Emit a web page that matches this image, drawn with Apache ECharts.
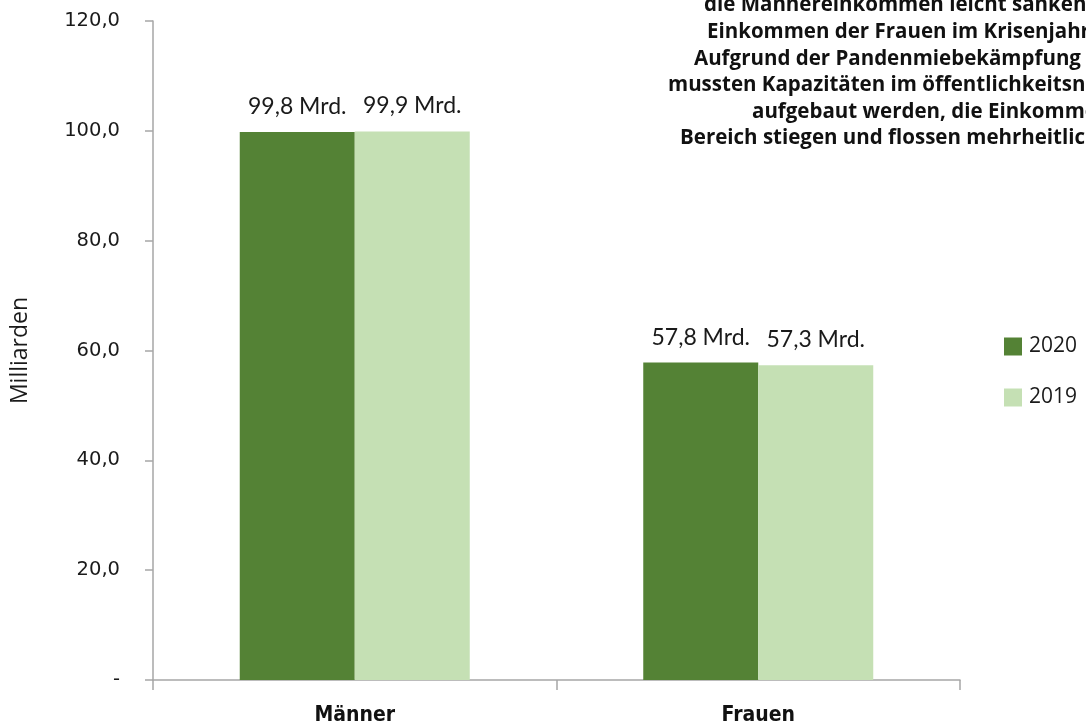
<!DOCTYPE html>
<html>
<head>
<meta charset="utf-8">
<script src="https://cdn.jsdelivr.net/npm/echarts@6/dist/echarts.min.js"></script>
<style>
  html, body { margin: 0; padding: 0; background: #fff; }
  #chart { width: 1086px; height: 727px; }
</style>
</head>
<body>
<div id="chart"></div>
<script>
const categories = ['Männer', 'Frauen']
const years = ['2020', '2019']
const values2020 = [99.8, 57.8]
const values2019 = [99.9, 57.3]
const yTicks = [0, 20, 40, 60, 80, 100, 120]

// Kommentar oben rechts (rechts abgeschnitten wie im Original)
const noteLines = [
  'die Männereinkommen leicht sanken, stieg das',
  'Einkommen der Frauen im Krisenjahr',
  'Aufgrund der Pandenmiebekämpfung',
  'mussten Kapazitäten im öffentlichkeitsnahen',
  'aufgebaut werden, die Einkommen',
  'Bereich stiegen und flossen mehrheitlich'
]
const noteX = [704, 707, 694, 668, 752, 680]

const chart = echarts.init(document.getElementById('chart'))

function fmt(v) {
  return v.toFixed(1).replace('.', ',')
}

const labelStyle = {
  show: true,
  position: 'top',
  distance: 14,
  fontFamily: 'Lato',
  fontSize: 23,
  color: '#1a1a1a',
  formatter: (p) => fmt(p.value) + ' Mrd.'
}

chart.setOption({
  animation: false,
  grid: { left: 153, right: 126, top: 21, bottom: 47 },
  legend: {
    orient: 'vertical',
    left: 999,
    top: 331,
    itemWidth: 18,
    itemHeight: 18,
    itemGap: 30,
    icon: 'rect',
    textStyle: { fontFamily: 'Open Sans', fontSize: 21, color: '#1a1a1a', padding: [0, 0, 0, 2] },
    data: years
  },
  xAxis: {
    type: 'category',
    data: categories,
    axisLine: { lineStyle: { color: '#a6a6a6', width: 1.5 } },
    axisTick: { show: true, length: 10, lineStyle: { color: '#a6a6a6', width: 1.5 } },
    axisLabel: {
      margin: 25,
      fontFamily: 'DejaVu Sans Condensed',
      fontWeight: 'bold',
      fontSize: 21,
      color: '#111'
    }
  },
  yAxis: {
    type: 'value',
    min: yTicks[0],
    max: yTicks[yTicks.length - 1],
    interval: 20,
    name: 'Milliarden',
    nameLocation: 'middle',
    nameGap: 121,
    nameTextStyle: { fontFamily: 'Open Sans', fontSize: 23, color: '#1a1a1a' },
    axisLine: { show: true, lineStyle: { color: '#a6a6a6', width: 1.5 } },
    axisTick: { show: true, length: 8, lineStyle: { color: '#a6a6a6', width: 1.5 } },
    splitLine: { show: false },
    axisLabel: {
      margin: 33,
      fontFamily: 'DejaVu Sans',
      fontSize: 19.5,
      color: '#1a1a1a',
      formatter: (v) => (v === 0 ? '-' : fmt(v))
    }
  },
  series: [
    {
      name: years[0],
      type: 'bar',
      data: values2020,
      barWidth: 115,
      barGap: '0%',
      itemStyle: { color: '#548235' },
      label: labelStyle
    },
    {
      name: years[1],
      type: 'bar',
      data: values2019,
      barWidth: 115,
      itemStyle: { color: '#C5E0B4' },
      label: labelStyle
    }
  ],
  graphic: noteLines.map((t, i) => ({
    type: 'text',
    left: noteX[i],
    top: -5 + i * 26.6,
    style: {
      text: t,
      fontFamily: 'Open Sans',
      fontWeight: 'bold',
      fontSize: 20.5,
      fill: '#111'
    }
  }))
})
</script>
</body>
</html>
